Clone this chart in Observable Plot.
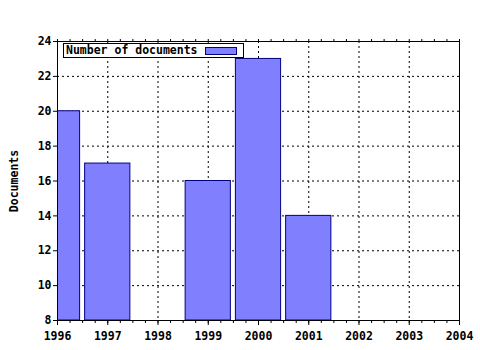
<!DOCTYPE html>
<html>
<head>
<meta charset="utf-8">
<script src="https://cdn.jsdelivr.net/npm/d3@7"></script>
<script src="https://cdn.jsdelivr.net/npm/@observablehq/plot@0.6"></script>
<style>
  body { margin: 0; background: #fff; }
  #wrap { position: relative; width: 480px; height: 350px; }
  .legend { position: absolute; left: 63px; top: 43px; width: 179px; height: 13px;
    border: 1px solid #000; background: #fff; box-sizing: content-box;
    font: bold 11.5px "DejaVu Sans Mono", monospace; line-height: 13px; }
  .legend span.t { position: absolute; left: 2px; top: 0; white-space: nowrap; }
  .legend span.s { position: absolute; left: 141px; top: 3px; width: 30px; height: 6px;
    background: #8080ff; border: 1px solid #000080; }
</style>
</head>
<body>
<div id="wrap"></div>
<script>
const years = [1996, 1997, 1999, 2000, 2001];
const docs = [20, 17, 16, 23, 14];
const seriesName = "Number of documents";
const yLabel = "Documents";
const xTicks = [1996, 1997, 1998, 1999, 2000, 2001, 2002, 2003, 2004];
const yTicks = [8, 10, 12, 14, 16, 18, 20, 22, 24];

const data = years.map((y, i) => ({year: y, value: docs[i]}));
const minor = d3.range(1996, 2004.001, 0.25);
const font = "bold 11.5px 'DejaVu Sans Mono', monospace";

const chart = Plot.plot({
  width: 480,
  height: 350,
  marginLeft: 57,
  marginRight: 21,
  marginTop: 41,
  marginBottom: 30,
  style: {font: font, color: "#000", background: "#fff"},
  x: {domain: [1996, 2004]},
  y: {domain: [8, 24]},
  marks: [
    Plot.gridX(xTicks.slice(1, -1), {stroke: "#000", strokeOpacity: 1, strokeDasharray: "2,3"}),
    Plot.gridY(yTicks.slice(1, -1), {stroke: "#000", strokeOpacity: 1, strokeDasharray: "2,3"}),
    Plot.rectY(data, {
      x1: d => d.year - 0.45, x2: d => d.year + 0.45,
      y1: 8, y2: "value",
      fill: "#8080ff", stroke: "#000080", strokeWidth: 1, clip: true
    }),
    Plot.frame({stroke: "#000"}),
    Plot.axisX(minor, {anchor: "bottom", tickSize: 3, text: null, label: null}),
    Plot.axisX(minor, {anchor: "top", tickSize: 3, text: null, label: null}),
    Plot.axisX(xTicks, {anchor: "bottom", tickSize: 5, tickPadding: 6, tickFormat: d => String(d), label: null, fontWeight: "bold"}),
    Plot.axisY(yTicks, {anchor: "left", tickSize: 4, tickPadding: 2, label: null}),
    Plot.text([yLabel], {frameAnchor: "left", textAnchor: "middle", rotate: -90, dx: -43, fontWeight: "bold"})
  ]
});

const wrap = document.getElementById("wrap");
wrap.appendChild(chart);
const lg = document.createElement("div");
lg.className = "legend";
lg.innerHTML = `<span class="t">${seriesName}</span><span class="s"></span>`;
wrap.appendChild(lg);
</script>
</body>
</html>
